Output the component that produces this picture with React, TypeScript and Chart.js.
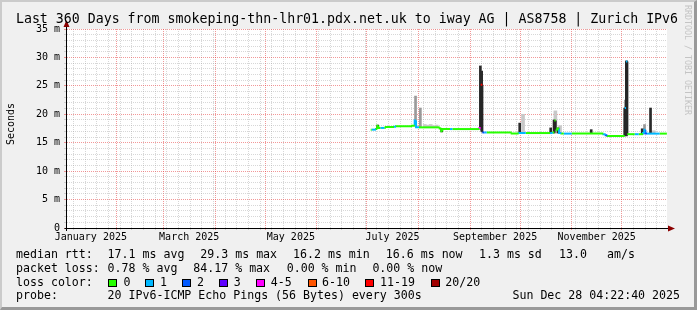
import React, { useEffect, useRef } from "react";
import { Chart, registerables } from "chart.js";

Chart.register(...registerables);

const MONO = "'DejaVu Sans Mono', monospace";

// ---------- time axis: days since 1 Jan 2025 00:00 ----------
const RANGE_START = 1.18; // Thu Jan 02 2025 04:22:40
const RANGE_END = 361.18; // Sun Dec 28 2025 04:22:40
const FIRST_MONDAY = 5; // Mon Jan 06 2025 (weekly minor grid)
const monthStartDays = [31, 59, 90, 120, 151, 181, 212, 243, 273, 304, 334];
const monthLabelDays = [15.5, 74.5, 135.5, 196.5, 258, 319];
const monthLabels = ["January 2025", "March 2025", "May 2025", "July 2025", "September 2025", "November 2025"];

// ---------- value axis ----------
const yLabelValues = [0, 5, 10, 15, 20, 25, 30, 35];
const yLabels = ["0", "5 m", "10 m", "15 m", "20 m", "25 m", "30 m", "35 m"];

// ---------- median rtt (ms), as runs: start day, value, loss bucket ----------
const medianRunStart = [
  183.4, 184.0, 186.6, 187.4, 188.0, 189.2, 191.6, 192.4, 197.4, 198.6,
  208.2, 209.8, 210.6, 212.4, 224.8, 225.8, 226.4, 231.0, 232.4, 248.6,
  249.4, 250.4, 251.6, 253.0, 268.0, 272.2, 276.4, 291.0, 292.6, 293.6,
  294.4, 295.4, 296.4, 297.8, 299.2, 304.0, 323.0, 324.4, 325.4, 335.8,
  336.6, 337.4, 341.8, 344.2, 346.8, 347.6, 348.2, 349.2, 356.8,
];
const medianLastDay = 361.1;
const medianMs = [
  17.3, 17.3, 17.4, 18.0, 17.6, 17.6, 17.6, 17.75, 17.8, 17.9,
  18.0, 18.9, 17.7, 17.7, 17.5, 17.0, 17.4, 17.4, 17.4, 17.6,
  25.2, 16.8, 16.8, 16.8, 16.6, 16.7, 16.7, 16.7, 16.8, 18.9,
  17.2, 17.5, 16.7, 16.6, 16.6, 16.6, 16.5, 16.3, 16.2, 21.1,
  29.3, 16.5, 16.5, 16.5, 16.7, 17.3, 16.6, 16.6, 16.6,
];
const medianLoss = [
  0, 1, 0, 0, 0, 1, 0, 0, 1, 0,
  0, 1, 1, 0, 0, 0, 0, 1, 0, 4,
  6, 2, 1, 0, 0, 1, 0, 1, 0, 0,
  0, 0, 1, 0, 1, 0, 1, 2, 0, 1,
  1, 0, 1, 0, 1, 1, 2, 1, 0,
];

// ---------- smoke (ping spread), dense / medium / faint ----------
const smokeDarkDays = [187.6, 226.0, 249.2, 250.0, 272.8, 291.4, 293.4, 295.8, 315.7, 335.9, 336.9, 346.3, 351.3];
const smokeDarkLow = [17.6, 16.9, 17.4, 17.0, 16.7, 16.7, 16.7, 16.7, 16.6, 16.2, 16.2, 16.5, 16.6];
const smokeDarkHigh = [18.1, 17.5, 28.5, 27.6, 18.45, 17.6, 19.0, 17.6, 17.3, 21.1, 29.4, 17.45, 21.1];

const smokeMidDays = [210.3, 213.2, 336.2, 347.7];
const smokeMidLow = [17.9, 17.7, 19.6, 16.6];
const smokeMidHigh = [23.2, 21.1, 22.5, 18.2];

const smokeLightDays = [215.8, 217.6, 219.4, 221.2, 223.0, 274.8, 294.2, 297.0, 353.2];
const smokeLightLow = [17.7, 17.7, 17.7, 17.7, 17.7, 16.7, 16.7, 16.7, 16.6];
const smokeLightHigh = [18.2, 18.1, 18.2, 18.0, 18.1, 20.0, 20.6, 18.0, 17.1];

// ---------- legend ----------
const lossBuckets = ["0", "1", "2", "3", "4-5", "6-10", "11-19", "20/20"];
const rttStats = ["17.1 ms avg", "29.3 ms max", "16.2 ms min", "16.6 ms now", "1.3 ms sd", "13.0", "am/s"];
const lossStats = ["0.78 % avg", "84.17 % max", "0.00 % min", "0.00 % now"];
const probeText = "20 IPv6-ICMP Echo Pings (56 Bytes) every 300s";
const stampText = "Sun Dec 28 04:22:40 2025";
const titleText = "Last 360 Days from smokeping-thn-lhr01.pdx.net.uk to iway AG | AS8758 | Zurich IPv6";

// ---------- styles ----------
const LOSS_COLORS = ["#26ff00", "#00b8ff", "#0059ff", "#5e00ff", "#ff00ff", "#ff5500", "#ff0000", "#a10000"];
const SPIKE_COLOR = "#262626";
const MAJOR_GRID = "rgba(230,50,50,0.5)";
const MINOR_GRID = "rgba(150,150,150,0.38)";
const RTT_X = [107.6, 200.3, 293, 385.8, 479, 559, 607];
const LOSS_X = [107.6, 193.3, 286.7, 372.4];
const SWATCH_X = [108, 145.3, 182, 219, 256.4, 307.6, 365.3, 431];
const SWATCH_LABEL_X = [123.6, 160, 197, 233.8, 270.7, 322, 380, 445.3];
const STEEP_MS = 1.25;

// one short polyline per median run (coloured by its loss), steep jumps drawn dark
type P = { x: number; y: number };
const runLines: { pts: P[]; loss: number }[] = [];
const stepLines: P[][] = [];
medianRunStart.forEach((s, i) => {
  const e = i + 1 < medianRunStart.length ? medianRunStart[i + 1] : medianLastDay;
  const v = medianMs[i];
  const pts: P[] = [];
  if (i > 0) {
    const pv = medianMs[i - 1];
    if (Math.abs(v - pv) > STEEP_MS) stepLines.push([{ x: s, y: pv }, { x: s, y: v }]);
    else if (pv !== v) pts.push({ x: s, y: pv });
  }
  pts.push({ x: s, y: v }, { x: e, y: v });
  runLines.push({ pts, loss: medianLoss[i] });
});

const bars = (days: number[], lo: number[], hi: number[]) =>
  days.map((d, i) => ({ x: d, y: [lo[i], hi[i]] }));

// x ticks: weekly minor grid, monthly major grid, mid-month labels
const xKinds = new Map<number, string>();
for (let d = FIRST_MONDAY; d < RANGE_END; d += 7) xKinds.set(d, "minor");
monthStartDays.forEach((d) => xKinds.set(d, "major"));
const xLabelMap = new Map<number, string>();
monthLabelDays.forEach((d, i) => {
  if (!xKinds.has(d)) xKinds.set(d, "label");
  xLabelMap.set(d, monthLabels[i]);
});
const xTickValues = Array.from(xKinds.keys()).sort((a, b) => a - b);

const yLabelMap = new Map<number, string>();
yLabelValues.forEach((v, i) => yLabelMap.set(v, yLabels[i]));
const yTickValues: number[] = [];
for (let v = 0; v <= 35; v += 1) yTickValues.push(v);

const canvasBg = {
  id: "canvasBg",
  beforeDraw(chart: any) {
    const { ctx, chartArea } = chart;
    ctx.save();
    ctx.fillStyle = "#ffffff";
    ctx.fillRect(chartArea.left, chartArea.top, chartArea.right - chartArea.left, chartArea.bottom - chartArea.top);
    ctx.restore();
  },
};

const rrdAxes = {
  id: "rrdAxes",
  afterDatasetsDraw(chart: any) {
    const { ctx, chartArea } = chart;
    const { left, right, top, bottom } = chartArea;
    const by = Math.round(bottom) + 0.5;
    const lx = Math.round(left) - 0.5;
    ctx.save();
    ctx.strokeStyle = "#000000";
    ctx.lineWidth = 1;
    ctx.beginPath();
    ctx.moveTo(lx - 2, by);
    ctx.lineTo(right + 2, by);
    ctx.moveTo(lx, bottom + 3);
    ctx.lineTo(lx, top - 3);
    ctx.stroke();
    ctx.fillStyle = "#8b0000";
    ctx.beginPath();
    ctx.moveTo(right + 1, by - 3);
    ctx.lineTo(right + 8, by);
    ctx.lineTo(right + 1, by + 3);
    ctx.closePath();
    ctx.fill();
    ctx.beginPath();
    ctx.moveTo(lx - 3, top - 2);
    ctx.lineTo(lx, top - 9);
    ctx.lineTo(lx + 3, top - 2);
    ctx.closePath();
    ctx.fill();
    ctx.restore();
  },
};

const gridColor = (kind: string | undefined) =>
  kind === "major" ? MAJOR_GRID : kind === "minor" ? MINOR_GRID : "rgba(0,0,0,0)";

const textStyle = (left: number, top: number): React.CSSProperties => ({
  position: "absolute",
  left,
  top,
  fontSize: 11.6,
  lineHeight: "12px",
  whiteSpace: "pre",
  fontFamily: MONO,
  color: "#000",
});

const lineDs = (pts: P[], color: string, order: number, label: string) => ({
  type: "line",
  label,
  data: pts,
  borderColor: color,
  backgroundColor: color,
  borderWidth: 2,
  pointRadius: 0,
  tension: 0,
  fill: false,
  borderCapStyle: "butt",
  order,
});

export default function App() {
  const ref = useRef<HTMLCanvasElement>(null);

  useEffect(() => {
    if (!ref.current) return;
    const medianSets = runLines.map((r, i) => lineDs(r.pts, LOSS_COLORS[r.loss], 0, "median rtt " + i));
    const stepSets = stepLines.map((pts, i) => lineDs(pts, SPIKE_COLOR, 1, "median step " + i));
    const chart = new Chart(ref.current, {
      type: "line",
      data: {
        datasets: [
          ...(medianSets as any[]),
          ...(stepSets as any[]),
          {
            type: "bar",
            label: "smoke dense",
            data: bars(smokeDarkDays, smokeDarkLow, smokeDarkHigh) as any,
            backgroundColor: "#2a2a2a",
            barThickness: 2,
            borderWidth: 0,
            grouped: false,
            order: 2,
          } as any,
          {
            type: "bar",
            label: "smoke medium",
            data: bars(smokeMidDays, smokeMidLow, smokeMidHigh) as any,
            backgroundColor: "#9a9a9a",
            barThickness: 2,
            borderWidth: 0,
            grouped: false,
            order: 3,
          } as any,
          {
            type: "bar",
            label: "smoke faint",
            data: bars(smokeLightDays, smokeLightLow, smokeLightHigh) as any,
            backgroundColor: "#c8c8c8",
            barThickness: 3,
            borderWidth: 0,
            grouped: false,
            order: 4,
          } as any,
        ],
      },
      options: {
        responsive: false,
        animation: false,
        devicePixelRatio: 1,
        events: [],
        layout: { padding: { left: 0, right: 30, top: 29, bottom: 62 } },
        plugins: { legend: { display: false }, tooltip: { enabled: false }, title: { display: false } },
        scales: {
          x: {
            type: "linear",
            min: RANGE_START,
            max: RANGE_END,
            offset: false,
            bounds: "data",
            afterBuildTicks: (s: any) => {
              s.ticks = xTickValues.map((v) => ({ value: v }));
            },
            afterFit: (s: any) => {
              s.height = 20;
            },
            ticks: {
              autoSkip: false,
              maxRotation: 0,
              minRotation: 0,
              padding: 1,
              color: "#000",
              font: { family: MONO, size: 10 },
              callback: (v: any) => xLabelMap.get(Number(v)) ?? "",
            },
            grid: {
              offset: false,
              lineWidth: 1,
              drawTicks: true,
              tickLength: 2,
              color: (ctx: any) => gridColor(xKinds.get(ctx.tick?.value)),
              tickColor: (ctx: any) => gridColor(xKinds.get(ctx.tick?.value)),
            },
            border: { display: false, dash: [1, 1] },
          } as any,
          y: {
            type: "linear",
            min: 0,
            max: 35,
            afterBuildTicks: (s: any) => {
              s.ticks = yTickValues.map((v) => ({ value: v }));
            },
            afterFit: (s: any) => {
              s.width = 67;
            },
            ticks: {
              autoSkip: false,
              padding: 4,
              color: "#000",
              font: { family: MONO, size: 10 },
              callback: (v: any) => yLabelMap.get(Number(v)) ?? "",
            },
            grid: {
              lineWidth: 1,
              drawTicks: true,
              tickLength: 3,
              color: (ctx: any) => (ctx.tick?.value % 5 === 0 ? MAJOR_GRID : MINOR_GRID),
              tickColor: (ctx: any) => (ctx.tick?.value % 5 === 0 ? MAJOR_GRID : MINOR_GRID),
            },
            border: { display: false, dash: [1, 1] },
          } as any,
        },
      },
      plugins: [canvasBg, rrdAxes],
    });
    return () => chart.destroy();
  }, []);

  return (
    <div
      style={{
        position: "absolute",
        left: 0,
        top: 0,
        width: 697,
        height: 310,
        background: "#f0f0f0",
        overflow: "hidden",
        fontFamily: MONO,
      }}
    >
      <canvas ref={ref} width={697} height={310} style={{ position: "absolute", left: 0, top: 0, width: 697, height: 310 }} />
      <div
        style={{
          position: "absolute",
          left: 0,
          top: 0,
          width: 697,
          height: 310,
          boxSizing: "border-box",
          borderTop: "2px solid #cbcbcb",
          borderLeft: "2px solid #cbcbcb",
          borderRight: "3px solid #999999",
          borderBottom: "3px solid #999999",
          pointerEvents: "none",
        }}
      />
      <div
        style={{
          position: "absolute",
          left: 0,
          top: 10.7,
          width: 694,
          textAlign: "center",
          fontSize: 13.25,
          lineHeight: "16px",
          whiteSpace: "pre",
          color: "#000",
        }}
      >
        {titleText}
      </div>
      <div
        style={{
          position: "absolute",
          left: 10.5,
          top: 124,
          transform: "translate(-50%, -50%) rotate(-90deg)",
          fontSize: 10,
          lineHeight: "12px",
          whiteSpace: "pre",
          color: "#000",
        }}
      >
        Seconds
      </div>
      <div
        style={{
          position: "absolute",
          left: 687.5,
          top: 60,
          transform: "translate(-50%, -50%) rotate(90deg)",
          fontSize: 8.3,
          lineHeight: "10px",
          whiteSpace: "pre",
          color: "#c4c4c4",
        }}
      >
        RRDTOOL / TOBI OETIKER
      </div>

      <div style={textStyle(16, 248)}>median rtt:</div>
      {rttStats.map((t, i) => (
        <div key={"r" + i} style={textStyle(RTT_X[i], 248)}>
          {t}
        </div>
      ))}
      <div style={textStyle(16, 261.7)}>packet loss:</div>
      {lossStats.map((t, i) => (
        <div key={"l" + i} style={textStyle(LOSS_X[i], 261.7)}>
          {t}
        </div>
      ))}
      <div style={textStyle(16, 275.5)}>loss color:</div>
      {lossBuckets.map((t, i) => (
        <React.Fragment key={"c" + i}>
          <div
            style={{
              position: "absolute",
              left: SWATCH_X[i],
              top: 278.5,
              width: 9,
              height: 8,
              boxSizing: "border-box",
              border: "1px solid #000",
              background: LOSS_COLORS[i],
            }}
          />
          <div style={textStyle(SWATCH_LABEL_X[i], 275.5)}>{t}</div>
        </React.Fragment>
      ))}
      <div style={textStyle(16, 289)}>probe:</div>
      <div style={textStyle(107.6, 289)}>{probeText}</div>
      <div style={{ ...textStyle(0, 289), left: undefined, right: 17 }}>{stampText}</div>
    </div>
  );
}
